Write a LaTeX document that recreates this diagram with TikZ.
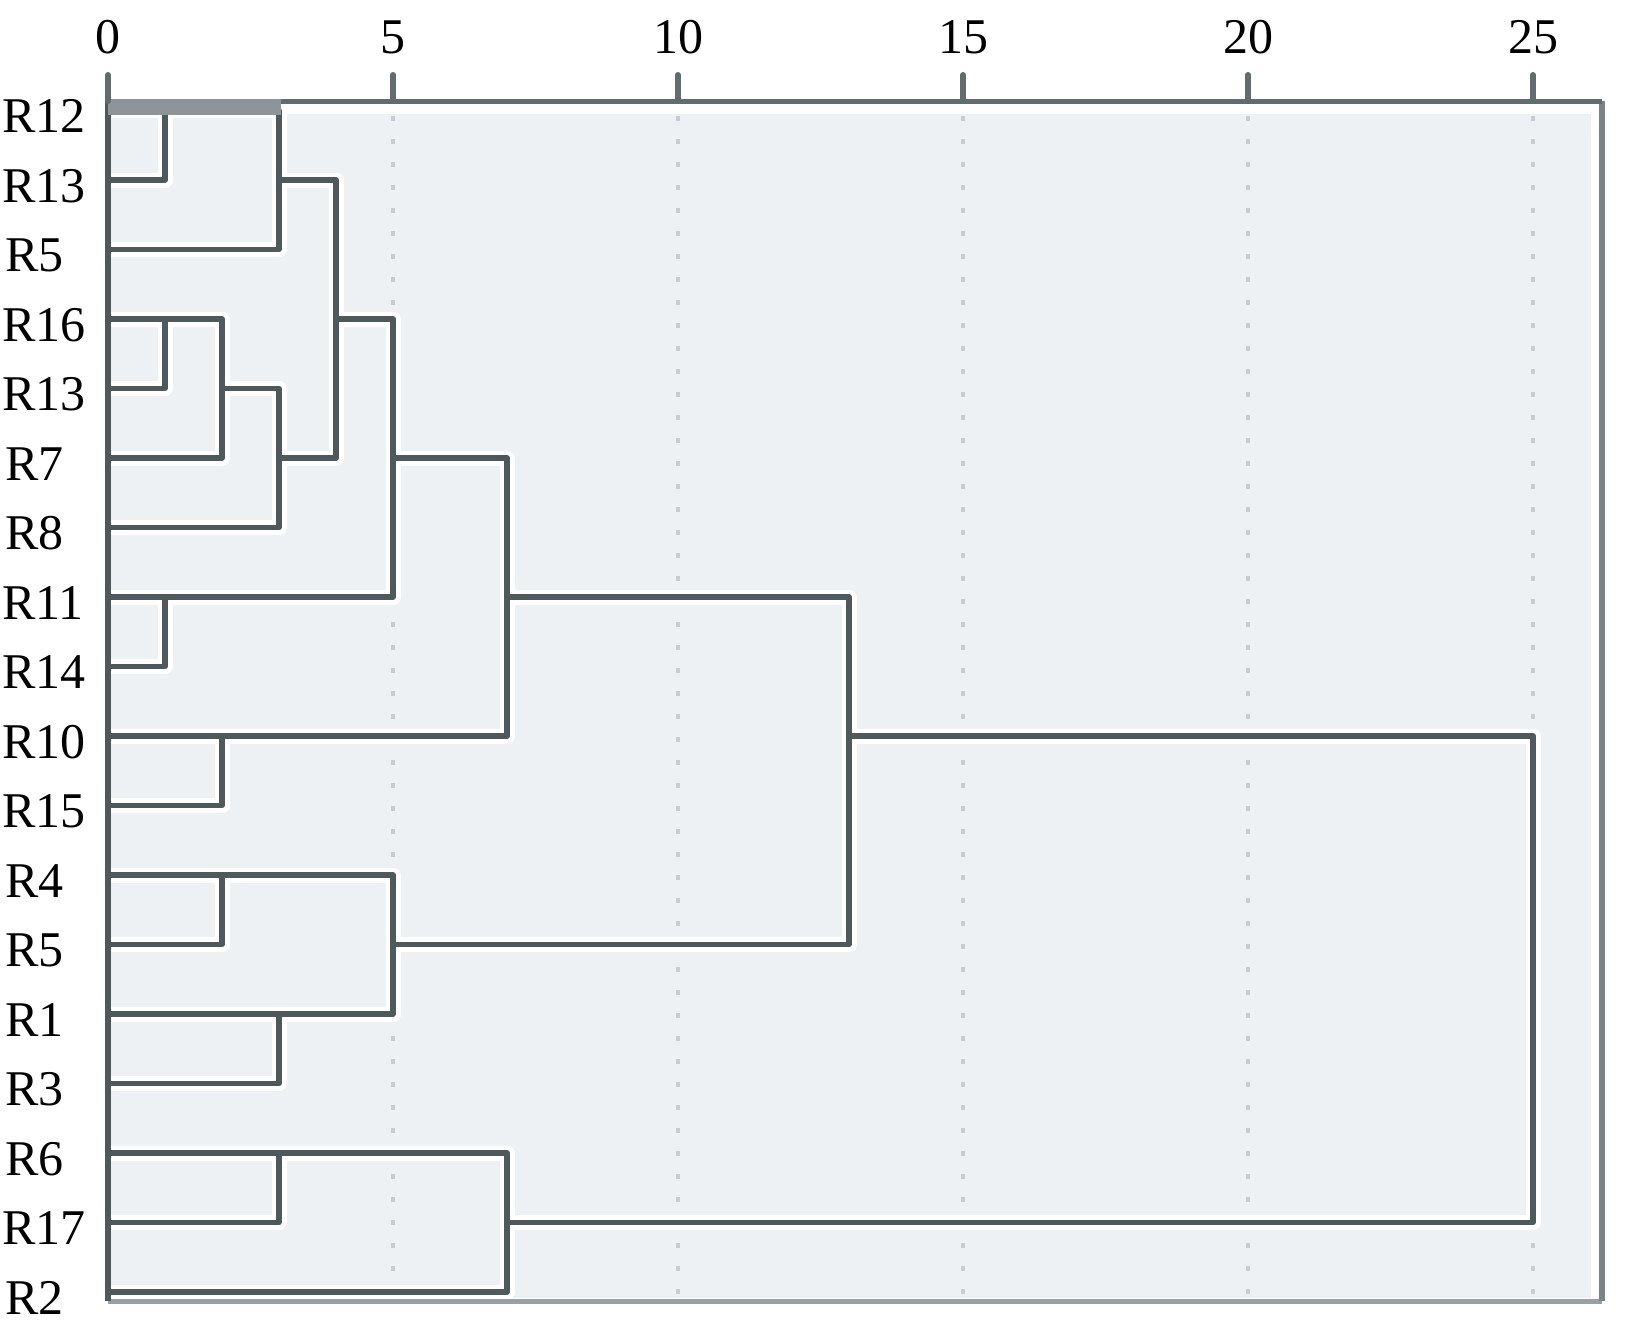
\documentclass[tikz,border=0pt]{standalone}
\usepackage{fontspec}
\setmainfont{Liberation Serif}
\definecolor{lnk}{HTML}{4F595C}
\definecolor{bgfill}{HTML}{EEF1F3}
\definecolor{gridc}{HTML}{C6CCCF}
\definecolor{frtop}{HTML}{626C6F}
\definecolor{frright}{HTML}{7A8386}
\definecolor{frbot}{HTML}{98A0A3}
\definecolor{band}{HTML}{8D9598}
\newcommand\dendrolines{%
  \draw[lk] (0,0) -- (1,0) -- (1,1) -- (0,1);      % A
  \draw[lk] (1,0) -- (3,0) -- (3,2) -- (0,2);      % B
  \draw[lk] (0,3) -- (1,3) -- (1,4) -- (0,4);      % C
  \draw[lk] (1,3) -- (2,3) -- (2,5) -- (0,5);      % D
  \draw[lk] (2,4) -- (3,4) -- (3,6) -- (0,6);      % E
  \draw[lk] (3,1) -- (4,1) -- (4,5) -- (3,5);      % F
  \draw[lk] (0,7) -- (1,7) -- (1,8) -- (0,8);      % G
  \draw[lk] (4,3) -- (5,3) -- (5,7) -- (1,7);      % H
  \draw[lk] (0,9) -- (2,9) -- (2,10) -- (0,10);    % I
  \draw[lk] (5,5) -- (7,5) -- (7,9) -- (2,9);      % J
  \draw[lk] (0,11) -- (2,11) -- (2,12) -- (0,12);  % K
  \draw[lk] (0,13) -- (3,13) -- (3,14) -- (0,14);  % L
  \draw[lk] (2,11) -- (5,11) -- (5,13) -- (3,13);  % M
  \draw[lk] (7,7) -- (13,7) -- (13,12) -- (5,12);  % N
  \draw[lk] (0,15) -- (3,15) -- (3,16) -- (0,16);  % O
  \draw[lk] (3,15) -- (7,15) -- (7,17) -- (0,17);  % P
  \draw[lk] (13,9) -- (25,9) -- (25,16) -- (7,16);  % Q
}
\tikzset{
  halo/.style={draw=white,line width=15pt,line join=round,line cap=butt},
  dark/.style={draw=lnk,line width=5.5pt,line join=round,line cap=butt},
  gridline/.style={draw=gridc,line width=3.5pt,dash pattern=on 5pt off 18pt},
  ticklab/.style={font=\fontsize{50}{60}\selectfont,inner sep=0pt,anchor=center},
  rowlab/.style={font=\fontsize{50}{60}\selectfont,inner sep=0pt,anchor=base west},
  tickmark/.style={draw=frtop,line width=6pt,line cap=round}
}
\begin{document}
\begin{tikzpicture}[x=1pt,y=-1pt]
\useasboundingbox (0,0) rectangle (1631,1325);
\fill[white] (0,0) rectangle (1631,1325);
% plot area
\fill[bgfill] (110,114) rectangle (1591,1298);
\foreach \d in {5,10,...,25} \draw[gridline] ({108+57*\d},116) -- ({108+57*\d},1298);
% halos
\begin{scope}[shift={(108,110.5)},x=57pt,y=-69.5pt]
  \tikzset{lk/.style={halo}}
  \dendrolines
\end{scope}
% frame
\draw[frbot,line width=5pt] (108,1301) -- (1602,1301);
\draw[frright,line width=6pt,line join=round] (1602,1301) -- (1602,101);
\draw[frtop,line width=5pt] (108,101) -- (1602,101);
\draw[lnk,line width=5.5pt] (108,101) -- (108,1301);
% dendrogram links
\begin{scope}[shift={(108,110.5)},x=57pt,y=-69.5pt]
  \tikzset{lk/.style={dark}}
  \dendrolines
\end{scope}
\fill[band] (108,99) rectangle (281,115);
% ticks
\foreach \d in {0,5,...,25} \draw[tickmark] ({108+57*\d},75) -- ({108+57*\d},101);
\node[ticklab] (t0)  at (108,37)  {0};
\node[ticklab] (t5)  at (393,37)  {5};
\node[ticklab] (t10) at (678,37)  {10};
\node[ticklab] (t15) at (963,37)  {15};
\node[ticklab] (t20) at (1248,37) {20};
\node[ticklab] (t25) at (1533,37) {25};
% row labels
\node[rowlab] (r0)  at (2,132.5)  {R12};
\node[rowlab] (r1)  at (2,202)    {R13};
\node[rowlab] (r2)  at (5,271.5)  {R5};
\node[rowlab] (r3)  at (2,341)    {R16};
\node[rowlab] (r4)  at (2,410.5)  {R13};
\node[rowlab] (r5)  at (5,480)    {R7};
\node[rowlab] (r6)  at (5,549.5)  {R8};
\node[rowlab] (r7)  at (2,619)    {R11};
\node[rowlab] (r8)  at (2,688.5)  {R14};
\node[rowlab] (r9)  at (2,758)    {R10};
\node[rowlab] (r10) at (2,827.5)  {R15};
\node[rowlab] (r11) at (5,897)    {R4};
\node[rowlab] (r12) at (5,966.5)  {R5};
\node[rowlab] (r13) at (5,1036)   {R1};
\node[rowlab] (r14) at (5,1105.5) {R3};
\node[rowlab] (r15) at (5,1175)   {R6};
\node[rowlab] (r16) at (2,1244.5) {R17};
\node[rowlab] (r17) at (5,1314)   {R2};
\end{tikzpicture}
\end{document}
